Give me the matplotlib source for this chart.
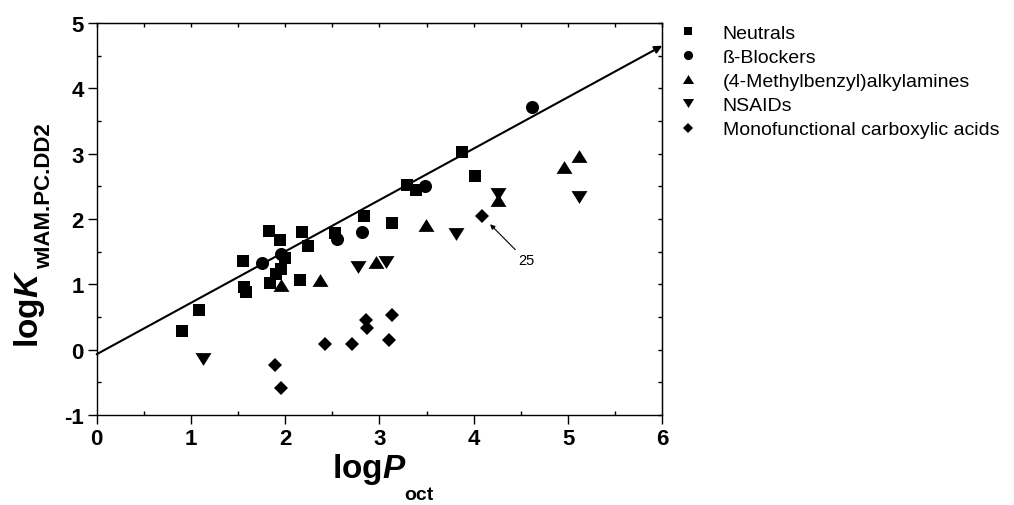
import matplotlib
matplotlib.use("Agg")
import matplotlib.pyplot as plt
import numpy as np

# ---------------- data ----------------
neutral_x = [0.90, 1.08, 1.55, 1.56, 1.58, 1.83, 1.84, 1.90, 1.94, 1.96, 2.00,
             2.16, 2.18, 2.24, 2.53, 2.84, 3.13, 3.29, 3.39, 3.87, 4.01]
neutral_y = [0.28, 0.61, 1.36, 0.96, 0.88, 1.81, 1.02, 1.16, 1.68, 1.23, 1.40,
             1.07, 1.80, 1.59, 1.78, 2.04, 1.94, 2.52, 2.44, 3.02, 2.66]

beta_x = [1.75, 1.95, 2.55, 2.81, 3.48, 4.62]
beta_y = [1.33, 1.47, 1.70, 1.80, 2.50, 3.71]

mba_x = [1.96, 2.37, 2.96, 3.49, 4.26, 4.96, 5.12]
mba_y = [0.99, 1.06, 1.34, 1.91, 2.29, 2.80, 2.96]

nsaid_x = [1.13, 2.77, 3.07, 3.81, 4.26, 5.12]
nsaid_y = [-0.15, 1.26, 1.34, 1.77, 2.38, 2.34]

acid_x = [1.89, 1.96, 2.42, 2.71, 2.86, 2.87, 3.13, 3.10, 4.09]
acid_y = [-0.23, -0.59, 0.09, 0.09, 0.45, 0.33, 0.53, 0.15, 2.04]

series_labels = ["Neutrals", "\u00df-Blockers", "(4-Methylbenzyl)alkylamines",
                 "NSAIDs", "Monofunctional carboxylic acids"]

fit_slope = 0.787
fit_intercept = -0.07
fit_xrange = [0, 6]

annot_label = "25"
annot_index = 8  # in acid series

x_ticks = [0, 1, 2, 3, 4, 5, 6]
y_ticks = [-1, 0, 1, 2, 3, 4, 5]

# ---------------- fonts ----------------
plt.rcParams["font.family"] = ["Liberation Sans", "DejaVu Sans"]
plt.rcParams["axes.unicode_minus"] = False
plt.rcParams["mathtext.fontset"] = "custom"
plt.rcParams["mathtext.rm"] = "Liberation Sans:bold"
plt.rcParams["mathtext.it"] = "Liberation Sans:italic:bold"
plt.rcParams["mathtext.bf"] = "Liberation Sans:bold"

W, H = 1014, 506
fig = plt.figure(figsize=(W / 100, H / 100), dpi=100)
L, R, T, B = 96.7, 662.3, 24, 416
ax = fig.add_axes([L / W, 1 - B / H, (R - L) / W, (B - T) / H])

tri_up = [(-1, -0.8), (1, -0.8), (0, 0.8)]
tri_dn = [(-1, 0.8), (1, 0.8), (0, -0.8)]

kw = dict(linestyle="none", color="black", markeredgewidth=0)
h1, = ax.plot(neutral_x, neutral_y, marker="s", ms=8.6, label=series_labels[0], **kw)
h2, = ax.plot(beta_x, beta_y, marker="o", ms=9.4, label=series_labels[1], **kw)
h3, = ax.plot(mba_x, mba_y, marker=tri_up, ms=11.5, label=series_labels[2], **kw)
h4, = ax.plot(nsaid_x, nsaid_y, marker=tri_dn, ms=11.5, label=series_labels[3], **kw)
h5, = ax.plot(acid_x, acid_y, marker="D", ms=7.3, label=series_labels[4], **kw)

# regression line with arrow head
fx = np.array(fit_xrange, dtype=float)
fy = fit_intercept + fit_slope * fx
ax.annotate("", xy=(fx[1], fy[1]), xytext=(fx[0], fy[0]),
            arrowprops=dict(arrowstyle="-|>", color="black", lw=1.5,
                            mutation_scale=11, shrinkA=0, shrinkB=0),
            annotation_clip=False)

# annotation "25"
ax.annotate(annot_label, xy=(acid_x[annot_index], acid_y[annot_index]),
            xytext=(31.5, -31.7), textcoords="offset points",
            ha="center", va="center", fontsize=10.5,
            arrowprops=dict(arrowstyle="-|>", color="black", lw=0.8,
                            mutation_scale=7, shrinkA=1, shrinkB=8))

ax.set_xlim(0, 6)
ax.set_ylim(-1, 5)
ax.set_xticks(x_ticks)
ax.set_yticks(y_ticks)
ax.set_xticks(np.arange(0.5, 6, 1.0), minor=True)
ax.set_yticks(np.arange(-0.5, 5, 1.0), minor=True)
for lab in ax.get_xticklabels() + ax.get_yticklabels():
    lab.set_fontweight("bold")
    lab.set_fontsize(16)
ax.tick_params(which="major", direction="out", length=6.5, width=1.0, pad=3)
ax.tick_params(which="minor", direction="in", length=3, width=1.0)
for s in ax.spines.values():
    s.set_linewidth(1.0)

# mirror ticks on top / right (inward)
top = ax.secondary_xaxis("top")
top.set_xticks(np.arange(0, 6.01, 0.5))
top.tick_params(direction="in", length=3, width=1.0, labeltop=False)
top.set_xticklabels([])
right = ax.secondary_yaxis("right")
right.set_yticks(np.arange(-1, 5.01, 0.5))
right.tick_params(direction="in", length=3, width=1.0, labelright=False)
right.set_yticklabels([])

# axis labels (main part + lowered subscript)
ylab_main = fig.text(38 / W, 1 - 348 / H, r"$\mathrm{log}K$", rotation=90,
                     rotation_mode="anchor", ha="left", va="baseline", fontsize=24)
xlab_main = fig.text(332 / W, 1 - 478 / H, r"$\mathrm{log}P$",
                     ha="left", va="baseline", fontsize=24)
fig.canvas.draw()
r = fig.canvas.get_renderer()
ye = ylab_main.get_window_extent(r)
xe = xlab_main.get_window_extent(r)
fig.text(50 / W, (ye.y1 + 1) / H, "wIAM.PC.DD2", rotation=90,
         rotation_mode="anchor", ha="left", va="baseline",
         fontsize=16, fontweight="bold")
fig.text((xe.x1 - 2) / W, 1 - 500 / H, "oct", ha="left", va="baseline",
         fontsize=14, fontweight="bold")

fig.legend(handles=[h1, h2, h3, h4, h5], loc="upper left",
           bbox_to_anchor=(678.0 / W, 1 - 25 / H), frameon=False,
           fontsize=14, handlelength=1.0, handletextpad=1.3,
           labelspacing=0.34, borderpad=0, borderaxespad=0,
           markerscale=0.7, numpoints=1)

fig.savefig("out.png", dpi=100)
